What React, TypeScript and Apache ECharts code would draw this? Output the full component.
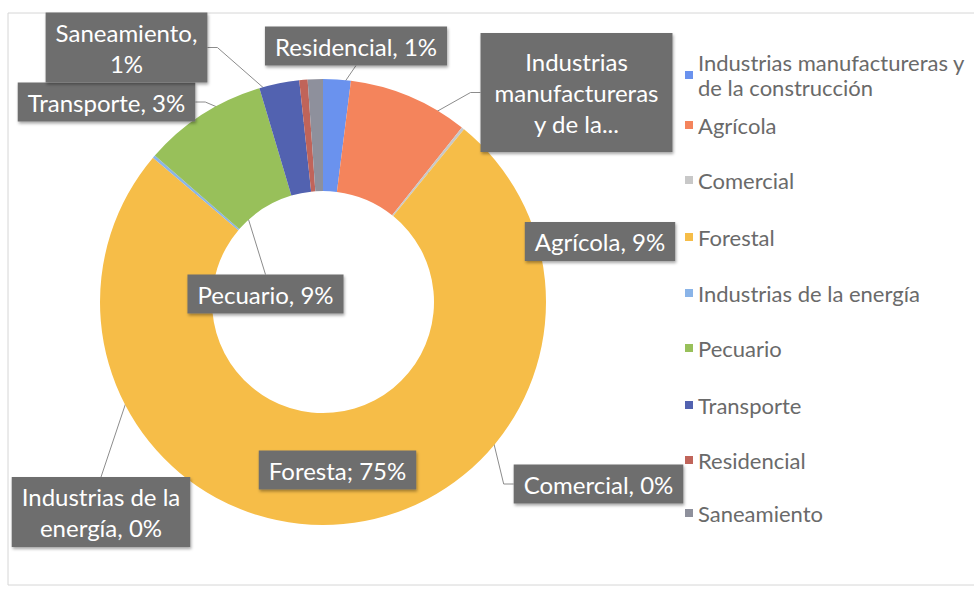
import React, { useEffect, useRef } from 'react';
import * as echarts from 'echarts';

const CATEGORIES = [
  'Industrias manufactureras y de la construcción',
  'Agrícola',
  'Comercial',
  'Forestal',
  'Industrias de la energía',
  'Pecuario',
  'Transporte',
  'Residencial',
  'Saneamiento',
];
const VALUES = [2.0, 8.7, 0.2, 75.3, 0.2, 9.0, 2.9, 0.6, 1.1];
const LABELS = [
  'Industrias\nmanufactureras\ny de la...',
  'Agrícola, 9%',
  'Comercial, 0%',
  'Foresta; 75%',
  'Industrias de la\nenergía, 0%',
  'Pecuario, 9%',
  'Transporte, 3%',
  'Residencial, 1%',
  'Saneamiento,\n1%',
];
const LEGEND_FIRST_TEXT = 'Industrias manufactureras y\nde la construcción';
const COLORS = ['#6a92ee', '#f4845c', '#c8c8c8', '#f6bd48', '#8ab4e8', '#98c05a', '#5262b0', '#c0645a', '#8e909c'];

// layout (not data)
const LEGEND_Y = [75, 125, 180, 237, 293, 348, 405, 460, 513];
const CENTER = [323, 302];
const R_IN = 111;
const R_OUT = 223;
type Lay = { x: number; y: number; side: string; angle?: number; r?: number };
const LABEL_LAYOUT: Lay[] = [
  { x: 576.5, y: 92.5, side: 'left', angle: 30, r: 0.97 },
  { x: 600, y: 241.5, side: 'left', angle: 43, r: 0.75 },
  { x: 598.5, y: 484, side: 'left' },
  { x: 337.5, y: 470, side: 'none' },
  { x: 101, y: 512, side: 'top' },
  { x: 265.5, y: 294, side: 'top', angle: 318, r: 0.5 },
  { x: 106.5, y: 102, side: 'right' },
  { x: 356, y: 46, side: 'bottom' },
  { x: 126.5, y: 47.5, side: 'right' },
];

export default function App() {
  const ref = useRef<HTMLDivElement>(null);
  useEffect(() => {
    document.body.style.margin = '0';
    const chart = echarts.init(ref.current!, null, { renderer: 'svg' });
    const total = VALUES.reduce((a, b) => a + b, 0);
    let acc = 0;
    const mids = VALUES.map((v) => {
      const m = ((acc + v / 2) / total) * 360;
      acc += v;
      return m;
    });
    const anchor = (i: number) => {
      const L = LABEL_LAYOUT[i];
      const th = ((L.angle ?? mids[i]) * Math.PI) / 180;
      const r = (L.r ?? 0.75) * R_OUT;
      return [CENTER[0] + r * Math.sin(th), CENTER[1] - r * Math.cos(th)];
    };
    chart.setOption({
      animation: false,
      backgroundColor: '#ffffff',
      graphic: [
        {
          type: 'rect',
          silent: true,
          z: -10,
          shape: { x: 8, y: 13, width: 1000, height: 572 },
          style: { fill: 'none', stroke: '#d6d6d6', lineWidth: 1 },
        },
      ],
      legend: CATEGORIES.map((name, i) => ({
        data: [name],
        orient: 'vertical',
        left: 685,
        top: i === 0 ? LEGEND_Y[0] - 37.5 : LEGEND_Y[i] - 12.5,
        padding: 0,
        itemWidth: 8,
        itemHeight: 8,
        icon: 'rect',
        selectedMode: false,
        formatter: i === 0 ? LEGEND_FIRST_TEXT : '{name}',
        textStyle: {
          fontFamily: 'Lato',
          fontSize: 22,
          color: '#6a6a6a',
          lineHeight: 25,
          padding: i === 0 ? [25, 0, 0, 0] : 0,
        },
      })),
      series: [
        {
          type: 'pie',
          center: CENTER,
          radius: [R_IN, R_OUT],
          startAngle: 90,
          clockwise: true,
          avoidLabelOverlap: false,
          emphasis: { disabled: true },
          itemStyle: { borderWidth: 0 },
          label: {
            show: true,
            position: 'outside',
            formatter: (p: any) => LABELS[p.dataIndex],
            color: '#ffffff',
            fontFamily: 'Lato',
            fontSize: 24,
            lineHeight: 31,
            backgroundColor: '#6e6e6e',
            padding: [4, 10],
            shadowColor: 'rgba(0,0,0,0.35)',
            shadowBlur: 3,
            shadowOffsetX: 1,
            shadowOffsetY: 2,
          },
          labelLine: { show: true, lineStyle: { color: '#8c8c8c', width: 1 } },
          labelLayout: (params: any) => {
            const i = params.dataIndex;
            const L = LABEL_LAYOUT[i];
            const w = params.labelRect.width;
            const h = params.labelRect.height;
            let e = [L.x, L.y];
            if (L.side === 'left') e = [L.x - w / 2, L.y];
            else if (L.side === 'right') e = [L.x + w / 2, L.y];
            else if (L.side === 'top') e = [L.x, L.y - h / 2];
            else if (L.side === 'bottom') e = [L.x, L.y + h / 2];
            const a = anchor(i);
            let m = e;
            if (L.side === 'left') m = [e[0] - 10, e[1]];
            if (L.side === 'right') m = [e[0] + 10, e[1]];
            return {
              x: L.x,
              y: L.y,
              align: 'center',
              verticalAlign: 'middle',
              labelLinePoints: [a, m, e],
            };
          },
          data: CATEGORIES.map((name, i) => ({
            name,
            value: VALUES[i],
            itemStyle: { color: COLORS[i] },
            label: i === 0 ? { padding: [13, 14] } : undefined,
            labelLine: i === 3 ? { show: false } : undefined,
          })),
        },
      ],
    });
    return () => chart.dispose();
  }, []);
  return (
    <div
      ref={ref}
      style={{ position: 'absolute', left: 0, top: 0, width: 974, height: 592 }}
    />
  );
}
